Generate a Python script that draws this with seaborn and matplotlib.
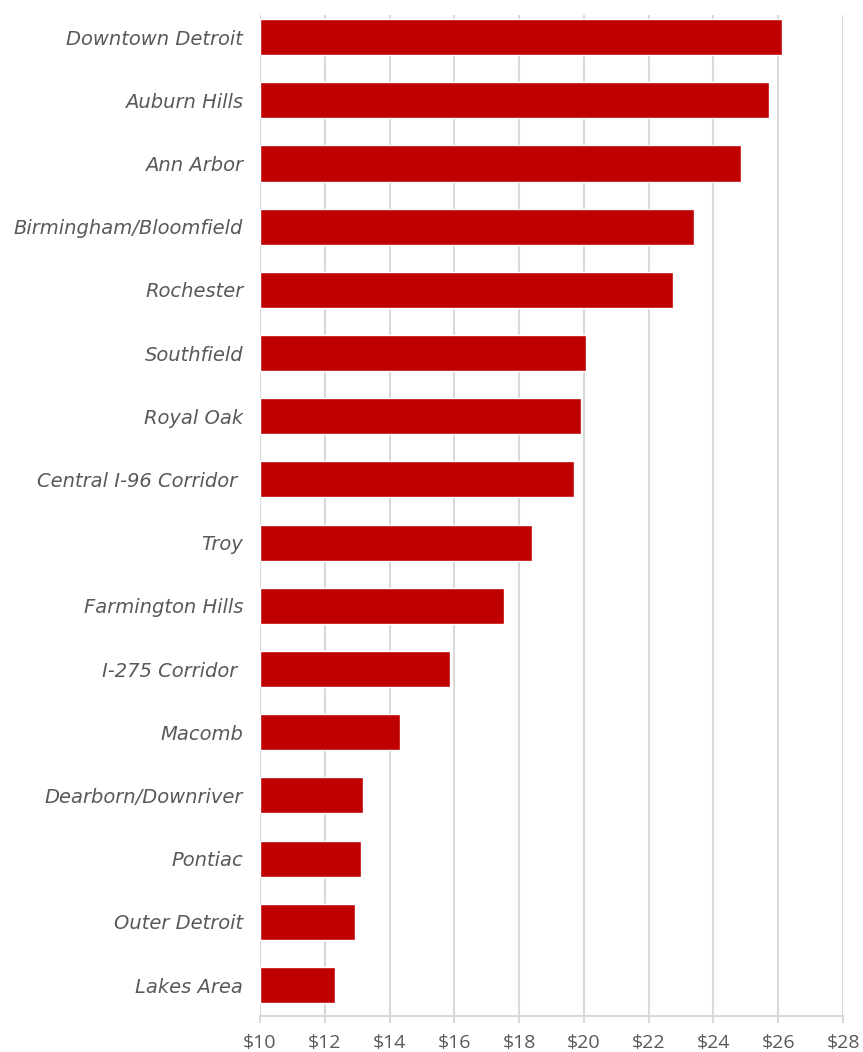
import matplotlib
matplotlib.use("Agg")
import matplotlib.pyplot as plt
import seaborn as sns
import pandas as pd

# submarket average asking rents
submarkets = ["Downtown Detroit", "Auburn Hills", "Ann Arbor", "Birmingham/Bloomfield",
              "Rochester", "Southfield", "Royal Oak", "Central I-96 Corridor ",
              "Troy", "Farmington Hills", "I-275 Corridor ", "Macomb",
              "Dearborn/Downriver", "Pontiac", "Outer Detroit", "Lakes Area"]
rents = [26.12, 25.73, 24.84, 23.40, 22.74, 20.05, 19.90, 19.71,
         18.41, 17.52, 15.88, 14.31, 13.18, 13.11, 12.94, 12.31]
tick_values = [10, 12, 14, 16, 18, 20, 22, 24, 26, 28]
tick_labels = ["$" + str(v) for v in tick_values]

df = pd.DataFrame({"submarket": submarkets, "rent": rents})

sns.set_style("white")
plt.rcParams["font.family"] = ["Open Sans", "DejaVu Sans"]

fig = plt.figure(figsize=(8.63, 10.52), dpi=100)
ax = fig.add_axes([260 / 863, 1 - 1016 / 1052, (843 - 260) / 863, (1016 - 15) / 1052])

grid_color = "#d9d9d9"
text_color = "#595959"

ax.vlines(tick_values, -0.35, 15.49, colors=grid_color, linewidth=1.5, zorder=0)

sns.barplot(data=df, x="rent", y="submarket", color="#C00000", width=0.57,
            saturation=1, ax=ax, zorder=2)
# bars start at $10 rather than 0
for patch, val in zip(ax.patches, rents):
    patch.set_x(10)
    patch.set_width(val - 10)

ax.set_xlim(10, 28)
ax.set_ylim(15.49, -0.35)
ax.set_xticks(tick_values)
ax.set_xticklabels(tick_labels, fontsize=14, color=text_color)
ax.set_yticklabels(submarkets, fontsize=14, style="italic", color=text_color,
                   family=["DejaVu Sans"], va="center_baseline")
ax.set_xlabel("")
ax.set_ylabel("")

for side in ["top", "right", "left"]:
    ax.spines[side].set_visible(False)
ax.spines["bottom"].set_color(grid_color)
ax.spines["bottom"].set_linewidth(1.5)
ax.tick_params(axis="x", bottom=True, length=5, width=1.5, color=grid_color, pad=8)
ax.tick_params(axis="y", left=False, pad=8.5)

fig.savefig("out.png", dpi=100)
